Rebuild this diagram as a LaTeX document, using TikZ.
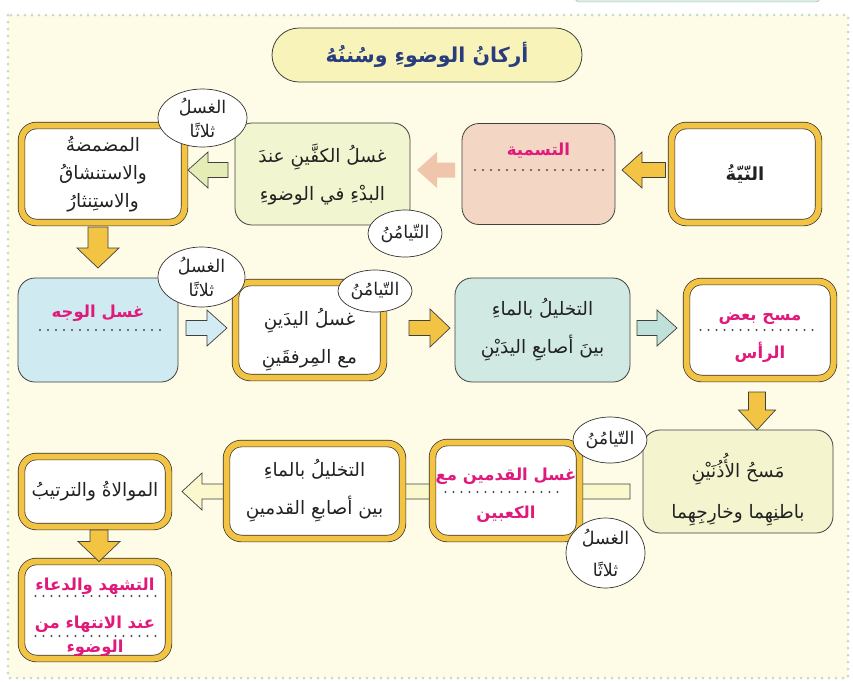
\documentclass[tikz,border=0pt]{standalone}
\usepackage{fontspec}
\usetikzlibrary{calc,shapes.geometric}
\newfontfamily\arabicfont[Script=Arabic]{DejaVu Sans}
\TeXXeTstate=1

\definecolor{cream}{HTML}{FEFCE6}
\definecolor{dotc}{HTML}{C6DDC4}
\definecolor{tabc}{HTML}{D8EEE9}
\definecolor{goldc}{HTML}{F3C443}
\definecolor{titlec}{HTML}{F8F3B9}
\definecolor{navyc}{HTML}{283C7E}
\definecolor{inkc}{HTML}{222222}
\definecolor{pinkc}{HTML}{E0197B}
\definecolor{peachc}{HTML}{F3D6C4}
\definecolor{peachar}{HTML}{EFC5AB}
\definecolor{ygc}{HTML}{F1F5D0}
\definecolor{ygar}{HTML}{E6ECB6}
\definecolor{bluec}{HTML}{D0EAF1}
\definecolor{bluear}{HTML}{D3EBF3}
\definecolor{tealc}{HTML}{D0E9E3}
\definecolor{tealar}{HTML}{BEE1DA}
\definecolor{earc}{HTML}{F4F5CF}
\definecolor{barc}{HTML}{FBF8CE}

\pgfdeclarelayer{background}
\pgfsetlayers{background,main}

\newcommand{\artxt}[1]{\beginR#1\endR}
\newcommand{\boxfont}{\arabicfont\fontsize{18.5}{38}\selectfont}

\tikzset{
  wh/.style 2 args={minimum width=#1pt, minimum height=#2pt},
  rukn/.style={rectangle, rounded corners=15pt, draw=black!80, line width=0.7pt,
    double=goldc, double distance=6pt, fill=white, align=center, inner sep=0pt,
    outer sep=0pt, text=inkc, font=\boxfont},
  sunna/.style={rectangle, rounded corners=17pt, draw=black!75, line width=0.8pt,
    fill=#1, align=center, inner sep=0pt, outer sep=0pt, text=inkc, font=\boxfont},
  strong/.style={font=\arabicfont\bfseries\fontsize{18}{38}\selectfont},
  blank/.style={text=pinkc, font=\arabicfont\bfseries\fontsize{16.5}{38}\selectfont},
  hint/.style={ellipse, draw=black!80, line width=0.7pt, fill=white, inner sep=-4pt,
    align=center, text=inkc, font=\arabicfont\fontsize{17.5}{24}\selectfont},
  dotrule/.style={draw=black!70, line width=2.2pt, line cap=round, dash pattern=on 0pt off 8pt},
  arrowline/.style={draw=black!75, line width=0.7pt},
}

% block arrow: style, shaft half width, head half width, from, to
\newcommand{\fatarrow}[5]{%
  \path (#4) coordinate (fa-s) (#5) coordinate (fa-e);
  \path ($(fa-e)!20pt!(fa-s)$) coordinate (fa-h);
  \filldraw[arrowline, #1]
    ($(fa-s)!#2!90:(fa-e)$) -- ($(fa-h)!#2!90:(fa-e)$) -- ($(fa-h)!#3!90:(fa-e)$)
    -- (fa-e) -- ($(fa-h)!#3!-90:(fa-e)$) -- ($(fa-h)!#2!-90:(fa-e)$)
    -- ($(fa-s)!#2!-90:(fa-e)$) -- cycle;
}

\begin{document}
\begin{tikzpicture}[x=1pt, y=-1pt]
  \useasboundingbox (0,0) rectangle (853,681);

  % Title
  \node[draw=black!75, line width=0.8pt, fill=titlec, rounded corners=27pt, wh={310}{54},
    inner sep=0pt, text=navyc, font=\arabicfont\bfseries\fontsize{20.5}{26}\selectfont]
    (title) at (427,55) {\artxt{أركانُ الوضوءِ وسُننُهُ}};

  % First row
  \node[rukn, wh={147}{97}, strong] (nia) at (745,174) {\artxt{النّيّةُ}};
  \node[sunna=peachc, wh={153}{101}, blank] (tasmiya) at (538.5,174) {\artxt{التسمية}\\[12pt] \mbox{}};
  \node[sunna=ygc, wh={175}{102}] (kaffayn) at (322.5,174)
    {\artxt{غسلُ الكفَّينِ عندَ}\\\artxt{البدْءِ في الوضوءِ}};
  \node[rukn, wh={163}{97}] (madmada) at (103,174)
    {\artxt{المضمضةُ}\\[-10pt]\artxt{والاستنشاقُ}\\[-10pt]\artxt{والاستِنثارُ}};

  % Second row
  \node[sunna=bluec, wh={160}{104}, blank] (wajh) at (98,330) {\artxt{غسل الوجه}\\ \mbox{}};
  \node[rukn, wh={148}{95}] (yadayn) at (309.5,330)
    {\rule{0pt}{36pt}\artxt{غسلُ اليدَينِ}\\\artxt{مع المِرفقَينِ}};
  \node[sunna=tealc, wh={175}{104}] (takhlil) at (542.5,330)
    {\artxt{التخليلُ بالماءِ}\\\artxt{بينَ أصابعِ اليدَيْنِ}};
  \node[rukn, wh={147}{97}, blank] (ras) at (760,330) {\rule{0pt}{24pt}\artxt{مسح بعض}\\\artxt{الرأس}};

  % Third row
  \node[sunna=earc, wh={190}{103}] (udhunayn) at (738,481.5)
    {\rule{0pt}{40pt}\artxt{مَسحُ الأُذُنَيْنِ}\\[3pt]\artxt{باطنِهِما وخارِجِهِما}};
  \node[rukn, wh={147}{96}, blank] (qadamayn) at (506,490.5)
    {\rule{0pt}{22pt}\artxt{غسل القدمين مع}\\\artxt{الكعبين}};
  \node[rukn, wh={176}{95}] (takhlilq) at (314.5,491)
    {\artxt{التخليلُ بالماءِ}\\\artxt{بين أصابعِ القدمينِ}};
  \node[rukn, wh={147}{70}] (muwalat) at (95,491.5) {\artxt{الموالاةُ والترتيبُ}};
  \node[rukn, wh={147}{97}, blank] (tashahhud) at (95,610)
    {\rule{0pt}{26pt}\artxt{التشهد والدعاء}\\\artxt{عند الانتهاء من}\\[-14pt]\artxt{الوضوء}};

  % Dotted blanks
  \draw[dotrule] ($(tasmiya.west)+(13,-4)$) -- ($(tasmiya.east)+(-10,-4)$);
  \draw[dotrule] ($(wajh.west)+(22,0)$) -- ($(wajh.east)+(-18,0)$);
  \draw[dotrule] ($(ras.west)+(14,0)$) -- ($(ras.east)+(-14,0)$);
  \draw[dotrule] ($(qadamayn.west)+(13,1.5)$) -- ($(qadamayn.east)+(-15,1.5)$);
  \draw[dotrule] ($(tashahhud.west)+(14,-14)$) -- ($(tashahhud.east)+(-12,-14)$);
  \draw[dotrule] ($(tashahhud.west)+(14,26)$) -- ($(tashahhud.east)+(-12,26)$);

  % Arrows
  \fatarrow{fill=goldc}{7.5pt}{18pt}{$(nia.west)+(-6,-4)$}{$(tasmiya.east)+(7,-4)$}
  \fatarrow{fill=peachar, draw=none}{7.5pt}{18pt}{$(tasmiya.west)+(-7,-4)$}{$(kaffayn.east)+(7,-4)$}
  \fatarrow{fill=ygar}{7.5pt}{18pt}{$(kaffayn.west)+(-7,-4)$}{$(madmada.east)+(3.5,-4)$}
  \fatarrow{fill=goldc}{10pt}{21pt}{$(madmada.south -| wajh.north)+(0,4.5)$}{$(wajh.north)+(0,-10)$}
  \fatarrow{fill=bluear}{7.5pt}{18pt}{$(wajh.east)+(8,-2)$}{$(yadayn.west)+(-8.5,-2)$}
  \fatarrow{fill=goldc}{7.5pt}{19pt}{$(yadayn.east)+(25.5,-2)$}{$(takhlil.west)+(-5,-2)$}
  \fatarrow{fill=tealar}{7.5pt}{18pt}{$(takhlil.east)+(7,-2)$}{$(ras.west)+(-9.5,-2)$}
  \fatarrow{fill=goldc}{8.5pt}{18.5pt}{$(ras.south)+(-3,13.5)$}{$(ras.south |- udhunayn.north)+(-3,0)$}
  \fatarrow{fill=goldc}{9pt}{21pt}{$(muwalat.south)+(4,3.5)$}{$(tashahhud.north)+(4,0)$}

  % Notes in bubbles
  \node[hint, wh={89}{58}] (thalath1) at (202.5,118) {\artxt{الغسلُ}\\\artxt{ثلاثًا}};
  \node[hint, wh={74}{47}] (tayamun1) at (405,233.5) {\artxt{التّيامُنُ}};
  \node[hint, wh={87}{60}] (thalath2) at (201.5,277) {\artxt{الغسلُ}\\\artxt{ثلاثًا}};
  \node[hint, wh={74}{42}] (tayamun2) at (375,291) {\artxt{التّيامُنُ}};
  \node[hint, wh={74}{46}] (tayamun3) at (610,440) {\artxt{التّيامُنُ}};
  \node[hint, wh={79}{70}] (thalath3) at (605.5,553) {\artxt{الغسلُ}\\[8pt]\artxt{ثلاثًا}};

  \begin{pgfonlayer}{background}
    % Page
    \fill[cream] (8,15) rectangle (848,678);
    \draw[draw=dotc, line width=3pt, line cap=round, dash pattern=on 0pt off 7pt] (8,15) rectangle (848,678);
    \draw[fill=tabc, draw=black!35, rounded corners=4pt] (575,-10) rectangle (820,2);
    % Long arrow behind the feet boxes
    \fatarrow{fill=barc}{7.5pt}{18.5pt}{$(udhunayn.west |- muwalat.east)+(-13,0)$}{$(muwalat.east)+(13.5,0)$}
  \end{pgfonlayer}
\end{tikzpicture}
\end{document}
